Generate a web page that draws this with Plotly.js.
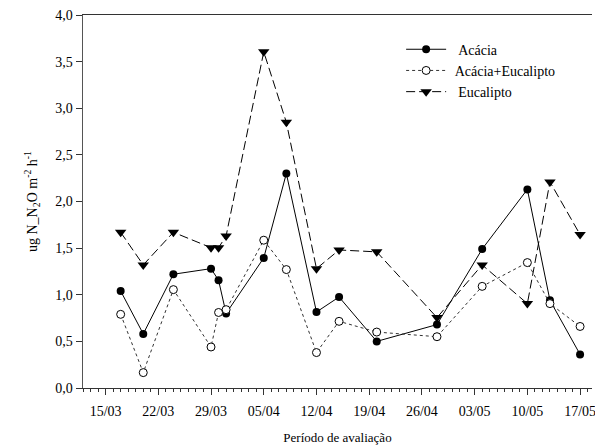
<!DOCTYPE html>
<html>
<head>
<meta charset="utf-8">
<script src="https://cdn.plot.ly/plotly-3.0.1.min.js"></script>
<style>html,body{margin:0;padding:0;background:#fff;}#chart{width:595px;height:445px;}</style>
</head>
<body>
<div id="chart"></div>
<script>
const dates = ['2000-03-17','2000-03-20','2000-03-24','2000-03-29','2000-03-30','2000-03-31','2000-04-05','2000-04-08','2000-04-12','2000-04-15','2000-04-20','2000-04-28','2000-05-04','2000-05-10','2000-05-13','2000-05-17'];
const acacia = [1.04,0.58,1.22,1.28,1.155,0.80,1.395,2.30,0.815,0.976,0.50,0.68,1.49,2.13,0.94,0.36];
const acaciaEucalipto = [0.79,0.165,1.055,0.44,0.81,0.84,1.585,1.27,0.38,0.715,0.60,0.55,1.09,1.345,0.905,0.66];
const eucalipto = [1.67,1.32,1.67,1.505,1.505,1.63,3.605,2.85,1.28,1.48,1.46,0.755,1.32,0.905,2.21,1.645];
const seriesNames = ['Acácia','Acácia+Eucalipto','Eucalipto'];
const yTitle = 'ug N_N<sub>2</sub>O m<sup>-2</sup> h<sup>-1</sup>';
const xTitle = 'Período de avaliação';

const FAM = 'Liberation Serif, Times New Roman, serif';
const font = {family: FAM, color: '#000', size: 13};

const traces = [
  {x: dates, y: acacia, name: '\u00a0\u00a0' + seriesNames[0], mode: 'lines+markers',
   line: {color: '#000', width: 1},
   marker: {symbol: 'circle', size: 8, color: '#000'}},
  {x: dates, y: acaciaEucalipto, name: '\u00a0' + seriesNames[1], mode: 'lines+markers',
   line: {color: '#333', width: 1, dash: 'dot'},
   marker: {symbol: 'circle', size: 8, color: '#fff', line: {color: '#000', width: 1}}},
  {x: dates, y: eucalipto, name: '\u00a0\u00a0' + seriesNames[2], mode: 'lines+markers',
   line: {color: '#000', width: 1, dash: '9px,4px'},
   marker: {symbol: 'triangle-down', size: 10, color: '#000'}}
];

const layout = {
  width: 595, height: 445,
  margin: {l: 83, r: 3, t: 15, b: 57},
  paper_bgcolor: '#fff', plot_bgcolor: '#fff',
  font: font,
  separators: ',.',
  showlegend: true,
  legend: {x: 0.625, y: 0.95, xanchor: 'left', yanchor: 'top', bgcolor: 'rgba(0,0,0,0)',
           font: {family: FAM, size: 14, color: '#000'}, itemwidth: 40, tracegroupgap: 0},
  xaxis: {
    type: 'date',
    range: ['2000-03-12', '2000-05-18 14:00'],
    tick0: '2000-03-15', dtick: 7 * 86400000,
    tickformat: '%d/%m',
    ticks: 'outside', ticklen: 6, tickcolor: '#333', tickwidth: 1,
    minor: {dtick: 86400000, ticks: 'outside', ticklen: 3, tickcolor: '#333', showgrid: false},
    showline: true, linecolor: '#333', linewidth: 1, mirror: true,
    showgrid: false, zeroline: false,
    ticklabelstandoff: 4,
    ticklabeloverflow: 'allow',
    tickfont: {family: FAM, size: 14, color: '#000'},
    title: {text: xTitle, font: {family: FAM, size: 13, color: '#000'}, standoff: 16}
  },
  yaxis: {
    range: [0, 4], dtick: 0.5, tickformat: '.1f',
    ticks: 'outside', ticklen: 6, tickcolor: '#333', tickwidth: 1,
    showline: true, linecolor: '#555', linewidth: 1.5,
    showgrid: false, zeroline: false,
    tickfont: {family: FAM, size: 14, color: '#000'},
    title: {text: yTitle, font: {family: FAM, size: 14, color: '#000'}, standoff: 14}
  }
};

Plotly.newPlot('chart', traces, layout, {displayModeBar: false, staticPlot: true});
</script>
</body>
</html>
